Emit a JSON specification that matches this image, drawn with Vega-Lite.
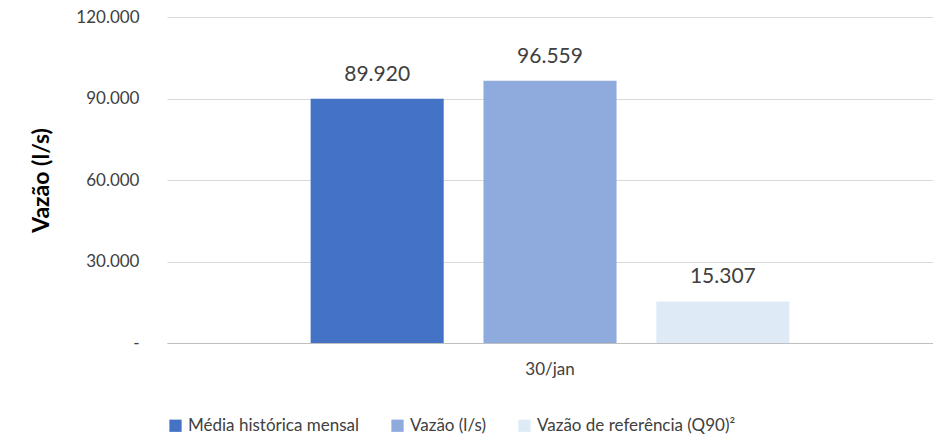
{
  "$schema": "https://vega.github.io/schema/vega-lite/v6.json",
  "width": 933,
  "height": 438,
  "autosize": {"type": "fit", "contains": "padding"},
  "padding": {"left": 30, "top": 8, "right": 0, "bottom": 4},
  "background": "#ffffff",
  "view": {"stroke": null},
  "config": {"font": "Lato"},
  "data": {
    "values": [
      {"data": "30/jan", "serie": "Média histórica mensal", "valor": 89920, "rotulo": "89.920"},
      {"data": "30/jan", "serie": "Vazão (l/s)", "valor": 96559, "rotulo": "96.559"},
      {"data": "30/jan", "serie": "Vazão de referência (Q90)²", "valor": 15307, "rotulo": "15.307"}
    ]
  },
  "encoding": {
    "x": {
      "field": "data",
      "type": "nominal",
      "scale": {"paddingInner": 0, "paddingOuter": 0.3},
      "axis": {"title": null, "labelAngle": 0, "labelFontSize": 17, "labelColor": "#404040", "labelPadding": 18, "domainColor": "#bfbfbf", "ticks": false}
    },
    "xOffset": {
      "field": "serie",
      "type": "nominal",
      "scale": {"paddingInner": 0.23, "paddingOuter": 0}
    },
    "y": {
      "field": "valor",
      "type": "quantitative",
      "scale": {"domain": [0, 120000]},
      "axis": {
        "title": "Vazão (l/s)",
        "titleFontSize": 23,
        "titleFontWeight": "bold",
        "titleColor": "#000000",
        "titlePadding": 22,
        "values": [0, 30000, 60000, 90000, 120000],
        "labelExpr": "datum.value == 0 ? '-' : replace(format(datum.value, ',.0f'), ',', '.')",
        "labelFontSize": 17,
        "labelColor": "#404040",
        "labelPadding": 28,
        "domain": false,
        "ticks": false,
        "gridColor": "#d9d9d9"
      }
    }
  },
  "layer": [
    {
      "mark": {"type": "bar"},
      "encoding": {
        "color": {
          "field": "serie",
          "type": "nominal",
          "scale": {"range": ["#4472c4", "#8faadc", "#deebf7"]},
          "legend": {"orient": "bottom", "title": null, "symbolType": "square", "symbolSize": 150, "labelFontSize": 17, "labelColor": "#404040", "columnPadding": 30, "labelLimit": 0, "offset": 40, "symbolStrokeWidth": 0}
        }
      }
    },
    {
      "mark": {"type": "text", "dy": -24, "fontSize": 21, "color": "#404040"},
      "encoding": {
        "text": {"field": "rotulo", "type": "nominal"}
      }
    }
  ]
}
